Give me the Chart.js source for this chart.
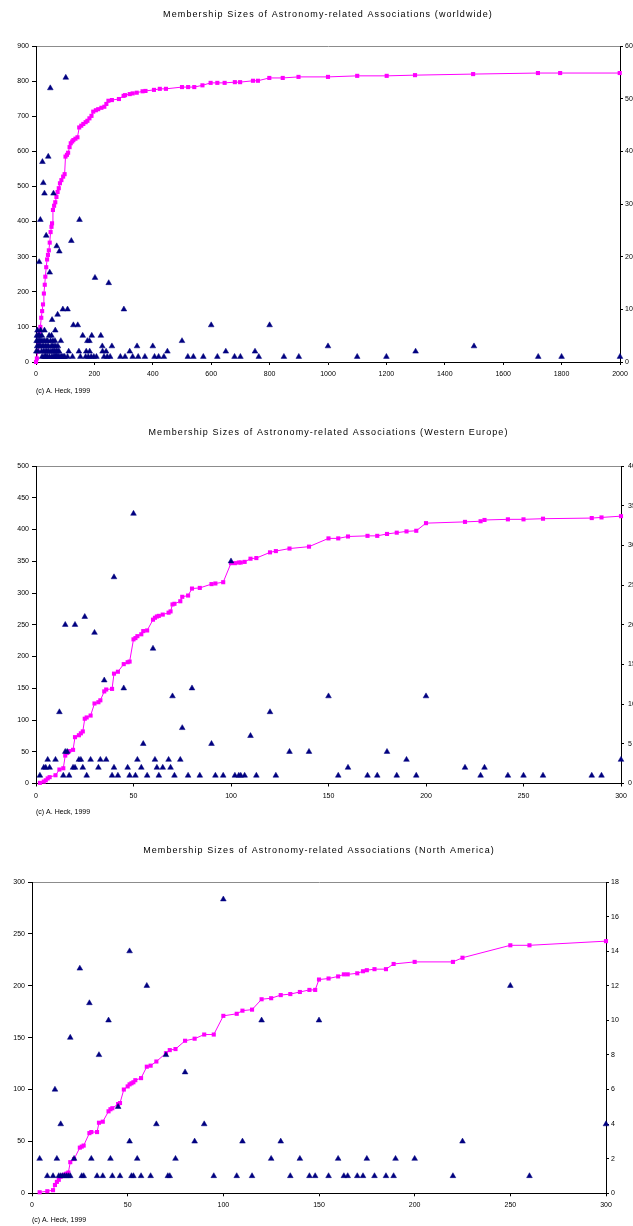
<!DOCTYPE html>
<html><head><meta charset="utf-8">
<script src="https://cdn.jsdelivr.net/npm/chart.js@4.4.1/dist/chart.umd.min.js"></script>
<style>
html,body{margin:0;padding:0;background:#fff;overflow:hidden;width:633px;height:1226px}
canvas.c{position:absolute;left:0}
</style></head><body>
<canvas id="c1" class="c" style="top:0px" width="633" height="400"></canvas>
<canvas id="c2" class="c" style="top:418px" width="633" height="404"></canvas>
<canvas id="c3" class="c" style="top:836px" width="633" height="390"></canvas>
<script>
// ---------- Titles ----------
const titles = [
  "Membership Sizes of Astronomy-related Associations (worldwide)",
  "Membership Sizes of Astronomy-related Associations (Western Europe)",
  "Membership Sizes of Astronomy-related Associations (North America)"
];
const copyright = "(c) A. Heck, 1999";

// ---------- Worldwide: number of associations per membership size (right axis) ----------
const worldSize = [
  21,28,32,34,39,46,54,59,63,67,
  70,73,77,82,87,90,95,98,108,125,
  152,170,179,189,198,207,233,244,254,289,
  305,331,350,373,406,420,438,520,539,573,
  621,680,700,763,849,900,1100,1200,1720,1800,
  2000,
  1,7,19,26,31,36,41,44,51,56,
  61,64,69,72,76,79,112,147,172,184,
  228,240,321,450,650,750,1300,
  4,9,13,17,23,27,33,38,43,52,
  57,62,68,75,227,260,346,400,1000,1500,
  2,6,10,14,18,24,30,37,40,50,
  58,65,85,176,183,500,
  3,8,12,20,45,53,160,191,222,
  5,16,29,66,
  128,143,600,800,
  55,74,92,108,301,
  249,202,47,11,80,71,121,35,15,149,
  29,60,25,22,42,49,102
];
const worldCount = [
  1,1,1,1,1,1,1,1,1,1,
  1,1,1,1,1,1,1,1,1,1,
  1,1,1,1,1,1,1,1,1,1,
  1,1,1,1,1,1,1,1,1,1,
  1,1,1,1,1,1,1,1,1,1,
  1,
  2,2,2,2,2,2,2,2,2,2,
  2,2,2,2,2,2,2,2,2,2,
  2,2,2,2,2,2,2,
  3,3,3,3,3,3,3,3,3,3,
  3,3,3,3,3,3,3,3,3,3,
  4,4,4,4,4,4,4,4,4,4,
  4,4,4,4,4,4,
  5,5,5,5,5,5,5,5,5,
  6,6,6,6,
  7,7,7,7,
  8,9,10,10,10,
  15,16,17,19,21,22,23,24,27,27,
  32,32,34,38,39,52,54
];
// cumulative number of associations (left axis)
const worldCumSize = [0,3,6,9,12,15,18,21,24,27,30,32,35,38,41,44,47,50,53,55,58,62,66,70,74,78,82,87,93,98,
  101,106,110,115,119,124,128,135,142,148,155,162,170,176,183,190,196,205,213,224,234,241,248,260,284,300,305,321,331,345,
  365,375,404,424,445,500,521,542,570,598,621,646,681,699,743,760,799,845,899,1000,1100,1201,1298,1497,1719,1795,1999];
const worldCumValue = [0,10,30,55,80,100,126,145,164,195,220,243,270,292,305,318,340,370,385,395,433,445,455,470,484,495,509,518,528,535,
  585,590,596,612,623,628,632,636,640,668,673,678,683,687,694,701,713,717,720,724,727,735,744,746,749,758,760,763,765,767,
  771,772,775,778,778,783,783,783,788,795,795,795,797,797,801,801,809,809,812,812,815,815,817,820,823,823,823];

// ---------- Western Europe ----------
const weSize = [
  2,14,17,26,39,42,48,51,57,63,
  71,78,84,92,96,102,104,105,107,113,
  123,155,170,175,185,195,228,242,250,260,
  285,290,
  4,5,7,19,20,24,32,40,47,54,
  62,65,69,160,220,230,
  6,10,22,23,28,33,36,52,61,68,
  74,190,300,
  15,16,130,140,180,
  55,90,110,75,12,120,70,150,200,45,
  80,35,60,30,15,20,25,40,100,50
];
const weCount = [
  1,1,1,1,1,1,1,1,1,1,
  1,1,1,1,1,1,1,1,1,1,
  1,1,1,1,1,1,1,1,1,1,
  1,1,
  2,2,2,2,2,2,2,2,2,2,
  2,2,2,2,2,2,
  3,3,3,3,3,3,3,3,3,3,
  3,3,3,
  4,4,4,4,4,
  5,5,6,7,9,9,11,11,11,12,
  12,13,17,19,20,20,21,26,28,34
];
const weCumSize = [2,4,5,6,7,10,12,14,15,16,17,19,20,22,23,24,25,26,28,30,32,33,35,36,39,40,42,45,47,48,
  50,51,52,54,55,57,60,61,62,63,65,68,69,70,71,74,75,78,80,84,90,92,96,100,102,104,105,107,110,113,
  120,123,130,140,150,155,160,170,175,180,185,190,195,200,220,228,230,242,250,260,285,290,300];
const weCumValue = [1,3,5,8,10,13,22,24,44,48,51,53,73,76,79,82,102,104,107,126,128,131,145,148,149,173,176,188,191,192,
  227,229,232,235,240,241,258,261,263,264,266,269,271,282,283,287,294,296,307,308,314,315,317,347,347,348,348,349,354,355,
  364,366,370,373,386,386,389,390,390,393,395,397,398,410,412,413,415,416,416,417,418,419,421];

// ---------- North America ----------
const naSize = [
  8,11,14,15,16,17,18,19,20,26,
  27,34,37,42,46,52,53,57,62,71,
  72,95,107,115,135,145,148,155,163,165,
  170,173,179,185,189,220,260,
  4,13,22,31,41,55,75,125,140,160,
  175,190,200,
  51,85,110,130,225,
  15,65,90,300,
  45,12,80,35,70,20,40,120,150,30,
  60,250,25,51,100
];
const naCount = [
  1,1,1,1,1,1,1,1,1,1,
  1,1,1,1,1,1,1,1,1,1,
  1,1,1,1,1,1,1,1,1,1,
  1,1,1,1,1,1,1,
  2,2,2,2,2,2,2,2,2,2,
  2,2,2,
  3,3,3,3,3,
  4,4,4,4,
  5,6,7,8,8,9,10,10,10,11,
  12,12,13,14,17
];
const naCumSize = [4,8,11,12,13,14,15,16,17,18,19,20,22,25,26,27,30,31,34,35,37,40,41,42,45,46,48,50,51,52,
  53,54,57,60,62,65,70,72,75,80,85,90,95,100,107,110,115,120,125,130,135,140,145,148,150,155,160,163,165,170,
  173,175,179,185,189,200,220,225,250,260,300];
const naCumValue = [1,2,3,8,11,13,16,17,18,19,20,30,33,44,45,46,58,59,59,68,69,79,81,82,86,87,100,103,105,106,
  107,109,111,122,123,127,135,138,139,147,149,153,153,171,173,176,177,187,188,191,192,194,196,196,206,207,209,211,211,212,
  214,215,216,216,221,223,223,227,239,239,243];

// ---------- Axis tick settings ----------
const xTicks  = [{max:2000, step:200}, {max:300, step:50}, {max:300, step:50}];
const yTicks  = [{max:900, step:100},  {max:500, step:50}, {max:300, step:50}];
const y2Ticks = [{max:60, step:10},    {max:40, step:5},   {max:18, step:2}];

const FONT = "'Liberation Sans', Arial, sans-serif";
const plain = v => String(v);

const spacingPlugin = {
  id: 'titleSpacing',
  beforeDraw(chart) {
    const t = chart.titleBlock;
    if (t && !t._spaced) {
      const d = t.draw.bind(t);
      t.draw = function() {
        const ctx = chart.ctx;
        ctx.save();
        try { ctx.letterSpacing = '1.1px'; } catch(e) {}
        d();
        ctx.restore();
      };
      t._spaced = true;
    }
  }
};

function pts(xs, ys) { return xs.map((x, i) => ({x: x, y: ys[i]})); }

function makeChart(id, idx, sizes, counts, cumS, cumV, L) {
  const ctx = document.getElementById(id);
  return new Chart(ctx, {
    type: 'scatter',
    data: {
      datasets: [
        {
          label: 'count',
          data: pts(sizes, counts),
          yAxisID: 'y2',
          showLine: false,
          pointStyle: 'triangle',
          pointRadius: 3.3,
          pointBackgroundColor: '#000080',
          pointBorderColor: '#000080',
          pointBorderWidth: 0.5,
          clip: false
        },
        {
          label: 'cumulative',
          data: pts(cumS, cumV),
          yAxisID: 'y',
          showLine: true,
          borderColor: '#FF00FF',
          borderWidth: 1,
          pointStyle: 'rect',
          pointRadius: 2.9,
          pointBackgroundColor: '#FF00FF',
          pointBorderColor: '#FF00FF',
          pointBorderWidth: 0,
          clip: false
        }
      ]
    },
    options: {
      responsive: false,
      animation: false,
      devicePixelRatio: 1,
      layout: { padding: 0 },
      plugins: {
        legend: { display: false },
        tooltip: { enabled: false },
        title: {
          display: true,
          text: titles[idx],
          fullSize: false,
          color: '#000',
          font: { family: FONT, size: 9, weight: 'normal', lineHeight: 1.2 },
          padding: { top: L.tTop, bottom: L.tBot }
        },
        subtitle: {
          display: true,
          text: copyright,
          position: 'bottom',
          align: 'start',
          fullSize: false,
          color: '#000',
          font: { family: FONT, size: 7, weight: 'normal', lineHeight: 1.2 },
          padding: { top: 0, bottom: L.sBot }
        }
      },
      scales: {
        x: {
          type: 'linear', position: 'bottom', min: 0, max: xTicks[idx].max,
          afterFit(s) { s.height = L.xH; },
          ticks: { stepSize: xTicks[idx].step, autoSkip: false, maxRotation: 0, color: '#000', padding: 5,
                   callback: plain, font: { family: FONT, size: 7 } },
          grid: { display: true, drawOnChartArea: false, drawTicks: true, tickLength: 3, color: '#000' },
          border: { display: true, color: '#000', width: 1 }
        },
        x2: {
          type: 'linear', position: 'top', min: 0, max: 1,
          afterFit(s) { s.height = 0; },
          ticks: { display: false },
          grid: { display: false },
          border: { display: true, color: '#8c8c8c', width: 1 }
        },
        y: {
          type: 'linear', position: 'left', min: 0, max: yTicks[idx].max,
          afterFit(s) { s.width = L.left; },
          ticks: { stepSize: yTicks[idx].step, autoSkip: false, color: '#000', padding: 3,
                   callback: plain, font: { family: FONT, size: 7 } },
          grid: { display: true, drawOnChartArea: false, drawTicks: true, tickLength: 4, color: '#000' },
          border: { display: true, color: '#000', width: 1 }
        },
        y2: {
          type: 'linear', position: 'right', min: 0, max: y2Ticks[idx].max,
          afterFit(s) { s.width = L.right; },
          ticks: { stepSize: y2Ticks[idx].step, autoSkip: false, color: '#000', padding: L.rPad,
                   callback: plain, font: { family: FONT, size: 7 } },
          grid: { display: true, drawOnChartArea: false, drawTicks: true, tickLength: 3, color: '#000' },
          border: { display: true, color: '#000', width: 1 }
        }
      }
    },
    plugins: [spacingPlugin]
  });
}

makeChart('c1', 0, worldSize, worldCount, worldCumSize, worldCumValue,
  { tTop: 9.6, tBot: 25.6, sBot: 4.8, xH: 24.8, left: 36, right: 13, rPad: 2 });
makeChart('c2', 1, weSize, weCount, weCumSize, weCumValue,
  { tTop: 9.6, tBot: 27.6, sBot: 5.8, xH: 24.3, left: 36, right: 12, rPad: 4 });
makeChart('c3', 2, naSize, naCount, naCumSize, naCumValue,
  { tTop: 9.6, tBot: 25.6, sBot: 1.8, xH: 22.5, left: 32, right: 27, rPad: 2 });
</script>
</body></html>
